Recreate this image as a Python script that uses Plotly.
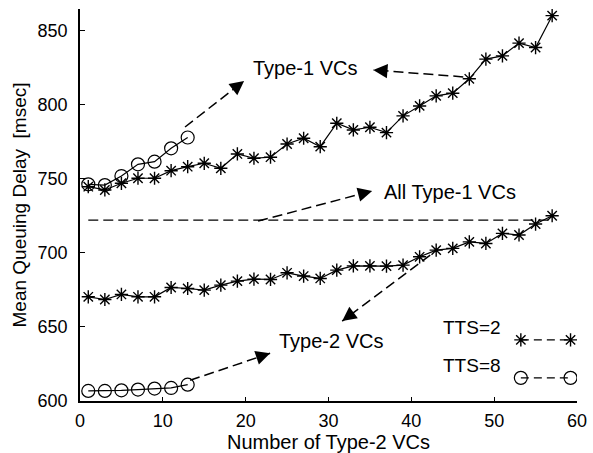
import plotly.graph_objects as go

# ---- data ----
x_tts2 = [1, 3, 5, 7, 9, 11, 13, 15, 17, 19, 21, 23, 25, 27, 29,
          31, 33, 35, 37, 39, 41, 43, 45, 47, 49, 51, 53, 55, 57]
type1_tts2 = [744.6, 742.4, 746.9, 750.3, 750.3, 755.4, 758.1, 760.4, 757.0, 766.7,
              763.8, 764.5, 773.4, 777.3, 771.6, 787.4, 782.9, 784.7, 781.1, 792.4,
              799.1, 805.9, 807.7, 817.4, 830.7, 832.9, 841.5, 838.5, 860.0]
type2_tts2 = [670.3, 668.5, 671.9, 670.3, 670.3, 676.6, 675.9, 674.8, 678.2, 680.9,
              682.2, 682.0, 686.5, 684.3, 682.7, 688.3, 691.2, 691.2, 691.0, 691.7,
              697.3, 701.8, 703.0, 707.4, 706.3, 713.1, 712.0, 719.4, 725.0]
x_tts8 = [1, 3, 5, 7, 9, 11, 13]
type1_tts8 = [746.2, 745.7, 751.8, 759.7, 761.5, 770.5, 777.8]
type2_tts8 = [606.8, 606.8, 607.2, 607.7, 608.4, 608.8, 611.0]
x_all = [1, 57]
all_type1 = [722.0, 722.0]

x_ticks = [0, 10, 20, 30, 40, 50, 60]
y_ticks = [600, 650, 700, 750, 800, 850]

FONT = "Liberation Sans, Arial, sans-serif"
FS = 18
FS_TXT = 20
BLACK = "#000000"

fig = go.Figure()

star = dict(symbol="asterisk-open", size=11, color=BLACK, line=dict(color=BLACK, width=1.4))
circ = dict(symbol="circle-open", size=13, color=BLACK, line=dict(color=BLACK, width=1.2))

fig.add_trace(go.Scatter(x=x_tts2, y=type1_tts2, mode="lines+markers",
                         line=dict(color=BLACK, width=1.2), marker=star, showlegend=False))
fig.add_trace(go.Scatter(x=x_tts2, y=type2_tts2, mode="lines+markers",
                         line=dict(color=BLACK, width=1.2), marker=star, showlegend=False))
fig.add_trace(go.Scatter(x=x_tts8, y=type1_tts8, mode="lines+markers",
                         line=dict(color=BLACK, width=1.2), marker=circ, showlegend=False))
fig.add_trace(go.Scatter(x=x_tts8, y=type2_tts8, mode="lines+markers",
                         line=dict(color=BLACK, width=1.2), marker=circ, showlegend=False))
fig.add_trace(go.Scatter(x=x_all, y=all_type1, mode="lines",
                         line=dict(color=BLACK, width=1.3, dash="10px,5px"), showlegend=False))

# legend samples on an overlay axis (paper-like 0..1 coordinates)
fig.add_trace(go.Scatter(x=[0.887, 0.987], y=[0.156, 0.156], xaxis="x2", yaxis="y2",
                         mode="lines+markers", line=dict(color=BLACK, width=1.2, dash="8px,5px"),
                         marker=star, showlegend=False, hoverinfo="skip"))
fig.add_trace(go.Scatter(x=[0.887, 0.987], y=[0.059, 0.059], xaxis="x2", yaxis="y2",
                         mode="lines+markers", line=dict(color=BLACK, width=1.2, dash="8px,5px"),
                         marker=circ, showlegend=False, hoverinfo="skip"))

# dashed arrows: (x0, y0, x1, y1, ax, ay) with head at (x1, y1)
arrows = [
    (12.68, 784.9, 19.81, 816.0, -7.9, 6.2),
    (46.27, 818.7, 35.40, 823.4, 10.0, 0.8),
    (21.50, 721.4, 35.27, 741.7, -9.7, 2.5),
    (13.29, 614.0, 22.95, 632.2, -9.5, 3.2),
    (42.28, 698.4, 31.65, 653.9, 8.0, -6.0),
]
shapes = []
annotations = []
for x0, y0, x1, y1, ax, ay in arrows:
    shapes.append(dict(type="line", xref="x", yref="y", x0=x0, y0=y0, x1=x1, y1=y1,
                       line=dict(color=BLACK, width=1.5, dash="10px,5px")))
    annotations.append(dict(x=x1, y=y1, xref="x", yref="y", ax=ax, ay=ay,
                            axref="pixel", ayref="pixel", text="", showarrow=True,
                            arrowhead=2, arrowsize=1.9, arrowwidth=1.5, arrowcolor=BLACK))

labels = [
    ("Type-1 VCs", 27.2, 824.8),
    ("All Type-1 VCs", 44.7, 741.0),
    ("Type-2 VCs", 30.3, 640.3),
]
for t, x, y in labels:
    annotations.append(dict(x=x, y=y, xref="x", yref="y", text=t, showarrow=False,
                            font=dict(family=FONT, size=FS_TXT, color=BLACK)))

for t, y in [("TTS=2", 0.156), ("TTS=8", 0.059)]:
    annotations.append(dict(x=0.851, y=y, xref="paper", yref="paper", text=t,
                            showarrow=False, xanchor="right",
                            font=dict(family=FONT, size=19, color=BLACK)))

fig.update_layout(
    template="none",
    width=593, height=453,
    margin=dict(l=80, r=16, t=9, b=52, autoexpand=False),
    paper_bgcolor="white", plot_bgcolor="white",
    font=dict(family=FONT, size=FS, color=BLACK),
    shapes=shapes, annotations=annotations,
    xaxis=dict(range=[0, 60], tickvals=x_ticks, ticks="inside", ticklen=4, tickwidth=1.3,
               tickcolor=BLACK, showline=True, linecolor=BLACK, linewidth=1.5,
               showgrid=False, zeroline=False, ticklabelstandoff=3, automargin=False,
               title=dict(text="Number of Type-2 VCs", standoff=8,
                          font=dict(family=FONT, size=FS_TXT))),
    yaxis=dict(range=[600, 864.5], tickvals=y_ticks, ticks="inside", ticklen=5, tickwidth=1.3,
               tickcolor=BLACK, showline=True, linecolor=BLACK, linewidth=1.5,
               showgrid=False, zeroline=False, ticklabelstandoff=7, automargin=False,
               title=dict(text="Mean Queuing Delay  [msec]", standoff=6,
                          font=dict(family=FONT, size=19))),
    xaxis2=dict(range=[0, 1], overlaying="x", visible=False, fixedrange=True),
    yaxis2=dict(range=[0, 1], overlaying="y", visible=False, fixedrange=True),
    showlegend=False,
)

fig.write_html("out.html", config={"displayModeBar": False},
               post_script="document.body.style.margin='0';document.body.style.overflow='hidden';")
